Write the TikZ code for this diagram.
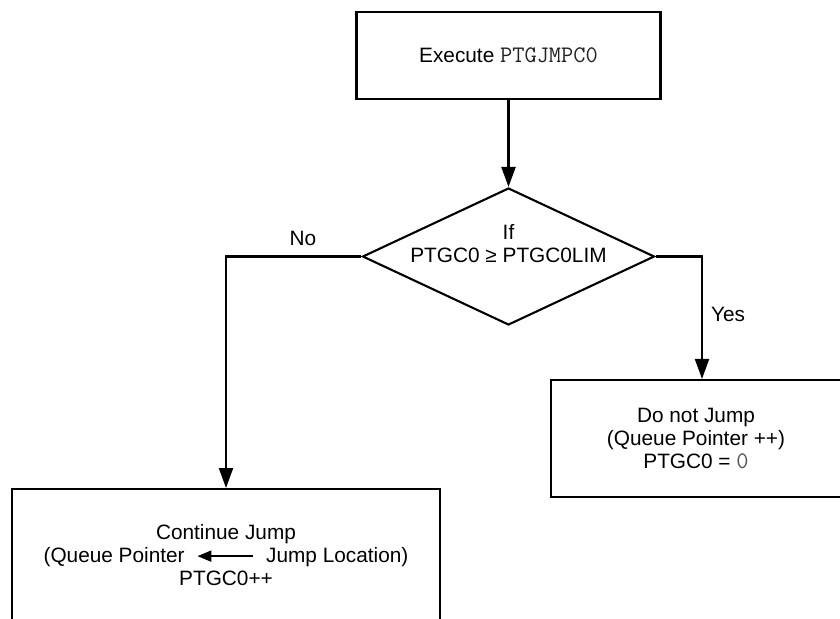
\documentclass[tikz,border=0pt]{standalone}
\usepackage{fontspec}
\setmainfont{Liberation Sans}
\setmonofont{Latin Modern Mono}[Scale=1.14]
\usepackage{xcolor}
\usepackage{tikz}
\usetikzlibrary{arrows.meta,positioning,shapes.geometric}
\definecolor{ink}{HTML}{000000}
\definecolor{codeink}{HTML}{222222}
\definecolor{valueink}{HTML}{555555}
\tikzset{
  stepbox/.style={
    draw=ink,
    line width=2.1pt,
    rectangle,
    align=center,
    inner sep=0pt
  },
  decisionnode/.style={
    draw=ink,
    line width=2.1pt,
    diamond,
    inner sep=0pt,
    minimum width=292pt,
    minimum height=137pt
  },
  labeltext/.style={inner sep=0pt, align=center},
  flowarrow/.style={-{Triangle[length=20pt,width=14pt]},line width=2.1pt,draw=ink}
}
\newcommand{\qparrow}{\tikz[baseline=-6pt]\draw[line width=2pt,{Triangle[length=14pt,width=11pt]}-] (0pt,0pt) -- (56pt,0pt);}
\newcommand{\regname}[1]{{\ttfamily\color{codeink}#1}}

\begin{document}
\begin{tikzpicture}[x=1pt,y=-1pt,font=\fontsize{20.8}{23}\selectfont]
  \useasboundingbox (0,0) rectangle (840,618);
  \clip (0,0) rectangle (840,618);
  \node[stepbox, minimum width=304pt, minimum height=87pt] (exec) at (508.5,55.5) {Execute \regname{PTGJMPC0}};
  \node[decisionnode] (dec) at (508.5,256.5) {};
  \node[labeltext] (dectxt) at ([yshift=13pt]dec.center) {If\\PTGC0 ≥ PTGC0LIM};
  \node[stepbox, minimum width=290pt, minimum height=117pt] (nojump) at (696,438.5)
    {Do not Jump\\(Queue Pointer ++)\\PTGC0 = {\ttfamily\color{valueink}0}};
  \node[stepbox, anchor=north, minimum width=428pt, inner ysep=35pt, text depth=60pt] (jump) at (226,488)
    {Continue Jump\\(Queue Pointer \hspace{6pt}\qparrow\hspace{6pt} Jump Location)\\PTGC0++};
  \node[labeltext] (nolbl) at (303,238) {No};
  \node[labeltext] (yeslbl) at (728,314) {Yes};
  \draw[flowarrow] (exec) -- (dec);
  \draw[flowarrow] (dec.west) -| (jump.north);
  \draw[flowarrow] (dec.east) -| ([xshift=6pt]nojump.north);
\end{tikzpicture}
\end{document}
